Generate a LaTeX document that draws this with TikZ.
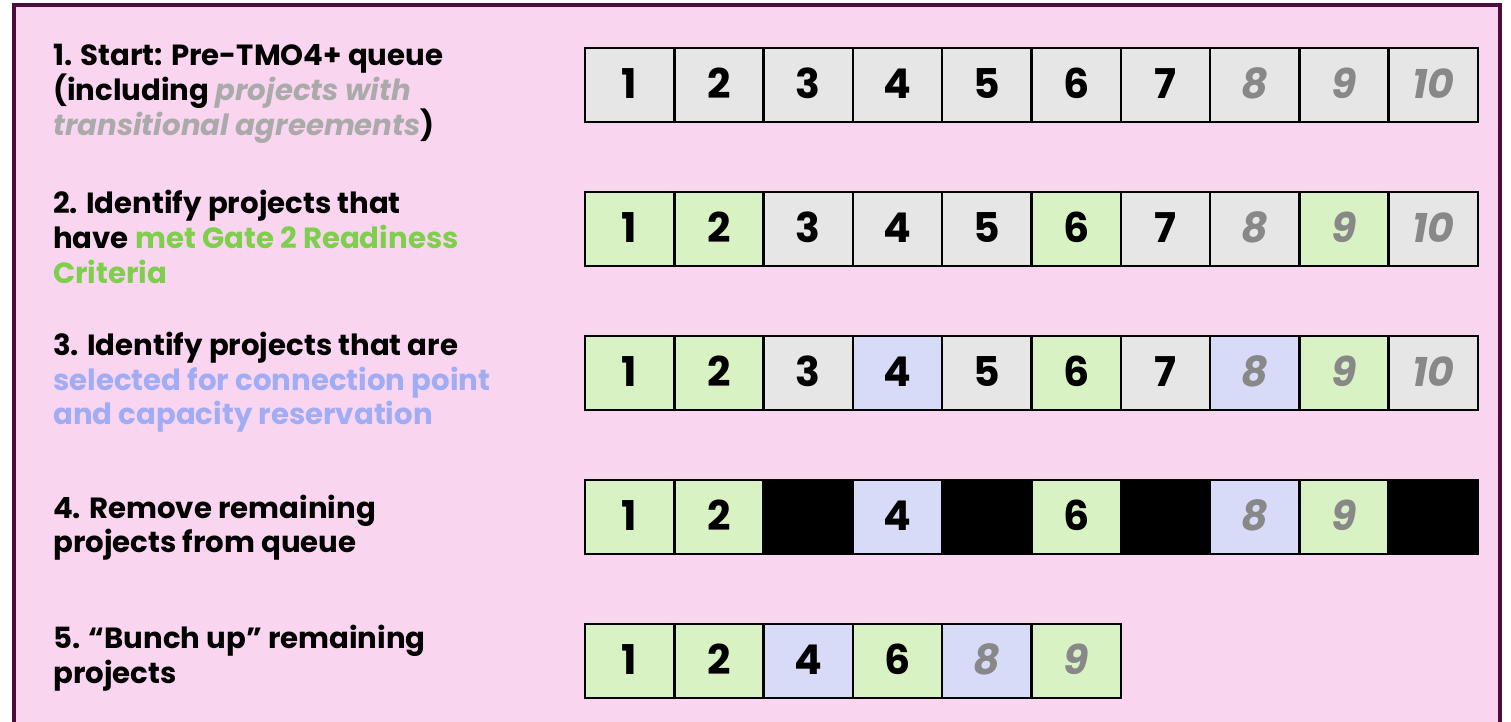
\documentclass[tikz,border=0pt]{standalone}
\usepackage{fontspec}
\setmainfont{Poppins}
\definecolor{bgpink}{RGB}{250,213,240}
\definecolor{frame}{RGB}{74,13,62}
\definecolor{cgray}{RGB}{230,230,230}
\definecolor{cgreen}{RGB}{217,242,196}
\definecolor{cblue}{RGB}{216,219,248}
\definecolor{numgray}{RGB}{136,136,136}
\definecolor{txtgray}{RGB}{170,170,170}
\definecolor{txtgreen}{RGB}{126,208,76}
\definecolor{txtblue}{RGB}{160,172,244}
\newcommand{\rn}[1]{\raisebox{3pt}{#1}}
\tikzset{
  cell/.style={draw=black, line width=2.5pt, minimum width=89.3pt, minimum height=74pt, inner sep=0pt, font=\fontsize{41}{41}\selectfont\bfseries},
  lbl/.style={anchor=base west, inner sep=0pt, font=\fontsize{29.2}{35}\selectfont\bfseries},
  gi/.style={text=numgray, font=\fontsize{41}{41}\selectfont\bfseries\itshape}
}
\begin{document}
\begin{tikzpicture}[x=1pt,y=-1pt]
\useasboundingbox (0,0) rectangle (1511,721);
\fill[white] (0,0) rectangle (1511,721);
\fill[bgpink] (14,5) rectangle (1500,730);
\draw[frame, line width=4pt] (14,740) -- (14,5) -- (1500,5) -- (1500,740);
% labels
\node[lbl] (l1a) at (53,65.5) {1. Start: Pre-TMO4+ queue};
\node[lbl] (l1b) at (53,100) {(including {\color{txtgray}\itshape projects with}};
\node[lbl] (l1c) at (53,135) {{\color{txtgray}\itshape transitional agreements})};
\node[lbl] (l2a) at (53,213.5) {2. Identify projects that};
\node[lbl] (l2b) at (53,248) {have {\color{txtgreen}met Gate 2 Readiness}};
\node[lbl, text=txtgreen] (l2c) at (53,283) {Criteria};
\node[lbl] (l3a) at (53,355.5) {3. Identify projects that are};
\node[lbl, text=txtblue] (l3b) at (53,390) {selected for connection point};
\node[lbl, text=txtblue] (l3c) at (53,424.5) {and capacity reservation};
\node[lbl] (l4a) at (53,518) {4. Remove remaining};
\node[lbl] (l4b) at (53,552.5) {projects from queue};
\node[lbl] (l5a) at (53,648) {5. “Bunch up” remaining};
\node[lbl] (l5b) at (53,683) {projects};
% row 1
\foreach \i/\c/\s in {1/cgray/,2/cgray/,3/cgray/,4/cgray/,5/cgray/,6/cgray/,7/cgray/,8/cgray/gi,9/cgray/gi,10/cgray/gi}
  \node[cell, fill=\c, \s] (a\i) at ({585+89.3*(\i-0.5)},85) {\rn{\i}};
% row 2
\foreach \i/\c/\s in {1/cgreen/,2/cgreen/,3/cgray/,4/cgray/,5/cgray/,6/cgreen/,7/cgray/,8/cgray/gi,9/cgreen/gi,10/cgray/gi}
  \node[cell, fill=\c, \s] (b\i) at ({585+89.3*(\i-0.5)},229) {\rn{\i}};
% row 3
\foreach \i/\c/\s in {1/cgreen/,2/cgreen/,3/cgray/,4/cblue/,5/cgray/,6/cgreen/,7/cgray/,8/cblue/gi,9/cgreen/gi,10/cgray/gi}
  \node[cell, fill=\c, \s] (c\i) at ({585+89.3*(\i-0.5)},373) {\rn{\i}};
% row 4
\foreach \i/\c/\s/\t in {1/cgreen//1,2/cgreen//2,3/black//,4/cblue//4,5/black//,6/cgreen//6,7/black//,8/cblue/gi/8,9/cgreen/gi/9,10/black//}
  \node[cell, fill=\c, \s] (d\i) at ({585+89.3*(\i-0.5)},517) {\rn{\t}};
% row 5
\foreach \i/\c/\s/\t in {1/cgreen//1,2/cgreen//2,3/cblue//4,4/cgreen//6,5/cblue/gi/8,6/cgreen/gi/9}
  \node[cell, fill=\c, \s] (e\i) at ({585+89.3*(\i-0.5)},661) {\rn{\t}};
\end{tikzpicture}
\end{document}
